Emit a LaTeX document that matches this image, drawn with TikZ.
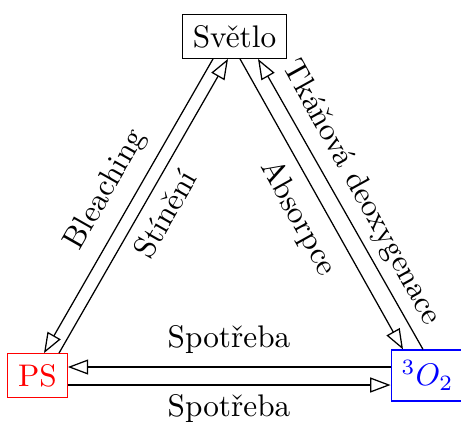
\documentclass[tikz,border=0pt]{standalone}
\usepackage{fontspec}
\usetikzlibrary{arrows.meta,calc}
\begin{document}
\begin{tikzpicture}[x=0.32pt,y=-0.32pt,
  box/.style={draw, inner sep=3.33pt},
  flow/.style={-{Triangle[open,length=6.5pt,width=4.8pt]}}]
\useasboundingbox (0,0) rectangle (461,421);
% the three states
\node[box] (S) at (234.5,36.5) {Světlo};
\node[box, draw=red, text=red] (PS) at (37.5,375.5) {PS};
\node[box, draw=blue, text=blue] (O) at (427.5,375.5) {$^3O_2$};
% left pair
\draw[flow] ($(S.south)+(-21.5,0)$) -- ($(PS.north)+(6.5,0)$);
\draw[flow] ($(PS.north)+(21.5,0)$) -- ($(S.south)+(-6.5,0)$);
% right pair
\draw[flow] ($(S.south)+(5.5,0)$) -- ($(O.north)+(-24.5,0)$);
\draw[flow] ($(O.north)+(-4.5,0)$) -- ($(S.south)+(23.5,0)$);
% bottom pair
\draw[flow] ($(O.west)+(0,-8.5)$) -- ($(PS.east)+(0,-8.5)$);
\draw[flow] ($(PS.east)+(0,9.5)$) -- ($(O.west)+(0,9.5)$);
% labels
\node[rotate=60.4] (lb) at (106,190) {Bleaching};
\node[rotate=60.4] (ls) at (165,214) {Stínění};
\node[rotate=-61] (la) at (298,218) {Absorpce};
\node[rotate=-61] (lt) at (361,193) {Tkáňová deoxygenace};
\node (lu) at (229,339.5) {Spotřeba};
\node (ld) at (229,408.5) {Spotřeba};
\end{tikzpicture}
\end{document}
